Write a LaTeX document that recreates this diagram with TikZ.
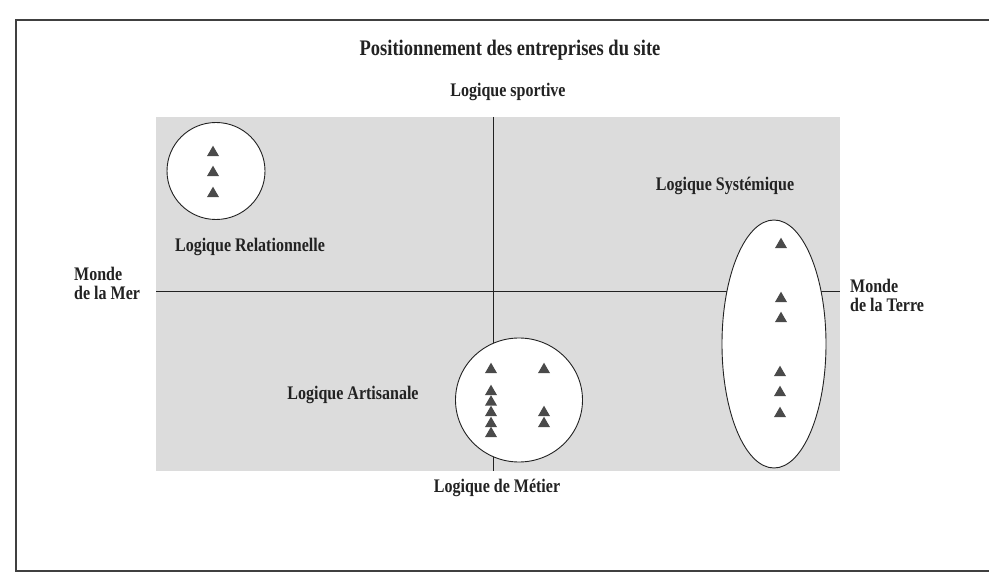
\documentclass[tikz,border=0pt]{standalone}
\usepackage{fontspec}
\setmainfont{Liberation Serif}
\usetikzlibrary{shapes.geometric}
\definecolor{bggray}{HTML}{DCDCDC}
\definecolor{ink}{HTML}{222222}
\definecolor{trigray}{HTML}{4A4A4A}
\newcommand{\tallt}[1]{\scalebox{1}[1.2]{#1}}
\begin{document}
\begin{tikzpicture}[x=1pt,y=-1pt,
  lbl/.style={font=\fontsize{16}{19}\selectfont\bfseries, text=ink, inner sep=0pt},
  ttl/.style={font=\fontsize{18.5}{22}\selectfont\bfseries, text=ink, inner sep=0pt},
  tri/.style={regular polygon, regular polygon sides=3, minimum size=14pt, inner sep=0pt, fill=trigray, yshift=-1.7pt},
  zone/.style={ellipse, draw=ink, line width=0.9pt, fill=white, inner sep=0pt},
  axisline/.style={draw=ink, line width=1pt},
  framestyle/.style={draw=black!75, line width=1.4pt}]
\useasboundingbox (0,0) rectangle (989,580);
\fill[white] (0,0) rectangle (989,580);
% frame
\coordinate (fr1) at (1000,20);
\coordinate (fr2) at (16,20);
\coordinate (fr3) at (16,571);
\coordinate (fr4) at (1000,571);
\draw[framestyle] (fr1) -- (fr2) -- (fr3) -- (fr4);
% grey field
\node[fill=bggray, inner sep=0pt, minimum width=684pt, minimum height=354pt] (field) at (498,294) {};
% axes
\coordinate (vtop) at (493,117);
\coordinate (vbot) at (493,471);
\coordinate (hleft) at (156,292);
\coordinate (hright) at (840,292);
\draw[axisline] (vtop) -- (vbot);
\draw[axisline] (hleft) -- (hright);
% zones
\node[zone, minimum width=98pt, minimum height=97pt] (rel) at (216,171) {};
\node[zone, minimum width=127pt, minimum height=124pt] (art) at (519,400) {};
\node[zone, minimum width=104pt, minimum height=248pt] (sys) at (774,344) {};
% triangles: relationnelle
\node[tri] (r1) at (213,151) {};
\node[tri] (r2) at (213,171) {};
\node[tri] (r3) at (213,192) {};
% triangles: artisanale
\node[tri] (a1) at (491,368) {};
\node[tri] (a2) at (491,390) {};
\node[tri] (a3) at (491,400.5) {};
\node[tri] (a4) at (491,411) {};
\node[tri] (a5) at (491,422) {};
\node[tri] (a6) at (491,432) {};
\node[tri] (a7) at (544,368) {};
\node[tri] (a8) at (544,411) {};
\node[tri] (a9) at (544,422) {};
% triangles: systemique
\node[tri] (s1) at (781,243) {};
\node[tri] (s2) at (781,297) {};
\node[tri] (s3) at (781,317) {};
\node[tri] (s4) at (780,371) {};
\node[tri] (s5) at (780,391) {};
\node[tri] (s6) at (780,412) {};
% labels
\node[ttl] (title) at (510,50) {\tallt{Positionnement des entreprises du site}};
\node[lbl] (sport) at (508,92) {\tallt{Logique sportive}};
\node[lbl] (relL) at (250,247) {\tallt{Logique Relationnelle}};
\node[lbl, anchor=west, align=left] (mer) at (74,283) {\tallt{Monde}\\\tallt{de la Mer}};
\node[lbl, anchor=west, align=left] (terre) at (850,295) {\tallt{Monde}\\\tallt{de la Terre}};
\node[lbl] (sysL) at (725,186) {\tallt{Logique Systémique}};
\node[lbl] (artL) at (353,395) {\tallt{Logique Artisanale}};
\node[lbl] (met) at (497,488) {\tallt{Logique de Métier}};
\end{tikzpicture}
\end{document}
